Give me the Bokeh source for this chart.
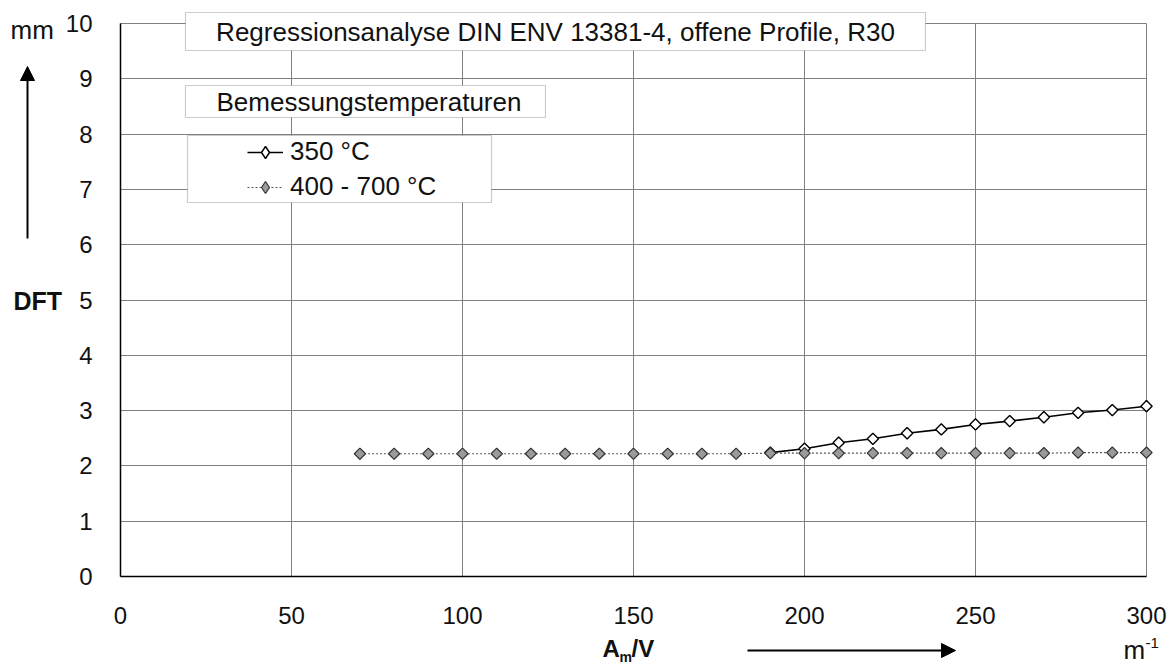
import math
from bokeh.plotting import figure
from bokeh.models import (Range1d, FixedTicker, Label, BoxAnnotation, Arrow,
                          NormalHead, Legend, LegendItem, ColumnDataSource,
                          CDSView, IndexFilter, Grid)
from bokeh.embed import file_html
from bokeh.resources import INLINE

# ---- data ----
x_ticks = [0, 50, 100, 150, 200, 250, 300]
y_ticks = [0, 1, 2, 3, 4, 5, 6, 7, 8, 9, 10]

x_400_700 = [70, 80, 90, 100, 110, 120, 130, 140, 150, 160, 170, 180,
             190, 200, 210, 220, 230, 240, 250, 260, 270, 280, 290, 300]
y_400_700 = [2.22, 2.22, 2.22, 2.22, 2.22, 2.22, 2.22, 2.22, 2.22, 2.22, 2.22, 2.22,
             2.23, 2.23, 2.23, 2.23, 2.23, 2.23, 2.23, 2.23, 2.23, 2.24, 2.24, 2.24]

x_350 = [190, 200, 210, 220, 230, 240, 250, 260, 270, 280, 290, 300]
y_350 = [2.24, 2.31, 2.42, 2.49, 2.59, 2.66, 2.75, 2.81, 2.88, 2.96, 3.01, 3.08]

series_labels = ["350 °C", "400 - 700 °C"]
title_text = "Regressionsanalyse DIN ENV 13381-4, offene Profile, R30"
legend_title = "Bemessungstemperaturen"

FONT = "Liberation Sans"
TXT = "#111111"
W, H = 1171, 668

# pixel layout of the data area: x 0..300 -> px 120..1146 ; y 0..10 -> px 576..23
def to_x(px):
    return (px - 120) / (1026 / 300)

def to_y(py):
    return (576 - py) / (553 / 10)

# the frame covers the whole canvas; axes sit at fixed data locations
p = figure(width=W, height=H, output_backend="svg", toolbar_location=None,
           x_range=Range1d(to_x(0), to_x(W)), y_range=Range1d(to_y(H), to_y(0)),
           min_border=0, min_border_left=0, min_border_right=0,
           min_border_top=0, min_border_bottom=0)
p.outline_line_color = None
p.background_fill_color = "white"
p.border_fill_color = "white"

for ax in (p.xaxis[0], p.yaxis[0]):
    ax.fixed_location = 0
    ax.major_tick_line_color = None
    ax.minor_tick_line_color = None
    ax.axis_line_color = "black"
    ax.axis_line_width = 1.5
    ax.major_label_text_font = FONT
    ax.major_label_text_font_size = "24px"
    ax.major_label_text_color = TXT
p.xaxis[0].ticker = FixedTicker(ticks=x_ticks)
p.yaxis[0].ticker = FixedTicker(ticks=y_ticks)
p.xaxis[0].bounds = (0, 300)
p.yaxis[0].bounds = (0, 10)
p.xaxis[0].major_label_standoff = 24
p.yaxis[0].major_label_standoff = 22

p.xgrid[0].ticker = FixedTicker(ticks=x_ticks)
p.ygrid[0].ticker = FixedTicker(ticks=y_ticks)
p.xgrid[0].bounds = (0, 300)
p.ygrid[0].bounds = (0, 10)
has_cross = "cross_bounds" in Grid.properties()
for g in (p.xgrid[0], p.ygrid[0]):
    g.grid_line_color = "#808080"
    g.grid_line_width = 1
if has_cross:
    p.xgrid[0].cross_bounds = (0, 10)
    p.ygrid[0].cross_bounds = (0, 300)
else:
    for kw in (dict(right=-0.2), dict(left=300.3), dict(top=-0.02), dict(bottom=10.02)):
        p.add_layout(BoxAnnotation(fill_color="white", fill_alpha=1.0, line_alpha=0,
                                   level="underlay", **kw))

# series
src350 = ColumnDataSource(dict(x=x_350, y=y_350))
src400 = ColumnDataSource(dict(x=x_400_700, y=y_400_700))

# diamond-shaped keys for the legend (one point each, hidden under the markers)
k400 = p.scatter("x", "y", source=src400, view=CDSView(filter=IndexFilter([0])),
                 marker="diamond", size=11, fill_color="#9a9a9a",
                 line_color="#333333", line_width=1.2)
l350 = p.line("x", "y", source=src350, line_color="black", line_width=1.6)
k350 = p.scatter("x", "y", source=src350, view=CDSView(filter=IndexFilter([11])),
                 marker="diamond", size=11, fill_color="white",
                 line_color="black", line_width=1.4)
p.scatter("x", "y", source=src350, marker="square", angle=math.pi / 4,
          size=8, fill_color="white", line_color="black", line_width=1.4)
l400 = p.line("x", "y", source=src400, line_color="#555555", line_width=1.2,
              line_dash="2 2")
p.scatter("x", "y", source=src400, marker="square", angle=math.pi / 4,
          size=8, fill_color="#9a9a9a", line_color="#333333", line_width=1.2)

# boxes
for (l, r, t, b) in [(185, 925, 12, 50), (185, 545, 85, 117), (187, 491, 135, 202)]:
    p.add_layout(BoxAnnotation(left=to_x(l), right=to_x(r), top=to_y(t), bottom=to_y(b),
                               fill_color="white", fill_alpha=1.0,
                               line_color="#555555", line_width=1.2, level="annotation"))

def label(px, py, text, size, bold=False):
    p.add_layout(Label(x=to_x(px), y=to_y(py), text=text, text_font=FONT,
                       text_font_size=size, text_font_style="bold" if bold else "normal",
                       text_align="left", text_baseline="middle", text_color=TXT))

p.add_layout(Label(x=to_x(555), y=to_y(31), text=title_text, text_font=FONT,
                   text_font_size="26px", text_align="center", text_baseline="middle",
                   text_color=TXT))
label(216, 101, legend_title, "26px")

legend = Legend(items=[LegendItem(label=series_labels[0], renderers=[l350, k350]),
                       LegendItem(label=series_labels[1], renderers=[l400, k400])],
                location=(247, H - 202), orientation="vertical",
                border_line_color=None, background_fill_alpha=0,
                label_text_font=FONT, label_text_font_size="26px",
                label_text_color=TXT,
                glyph_width=36, glyph_height=30, label_height=30,
                label_standoff=7, spacing=4, padding=0, margin=0)
p.add_layout(legend, "center")

# axis titles
label(10, 29, "mm", "26px")
label(13, 300, "DFT", "25px", bold=True)
label(602, 648, "A", "24px", bold=True)
label(619, 656, "m", "14px", bold=True)
label(631, 648, "/V", "24px", bold=True)
label(1123, 649, "m", "26px")
label(1145, 642, "-1", "15px")

# arrows (added last)
p.add_layout(Arrow(x_start=to_x(27), y_start=to_y(238), x_end=to_x(27), y_end=to_y(66),
                   line_color="black", line_width=2,
                   end=NormalHead(size=14, fill_color="black", line_color="black")))
p.add_layout(Arrow(x_start=to_x(747), y_start=to_y(650), x_end=to_x(955), y_end=to_y(650),
                   line_color="black", line_width=2,
                   end=NormalHead(size=14, fill_color="black", line_color="black")))

open("out.html", "w").write(file_html(p, INLINE))
